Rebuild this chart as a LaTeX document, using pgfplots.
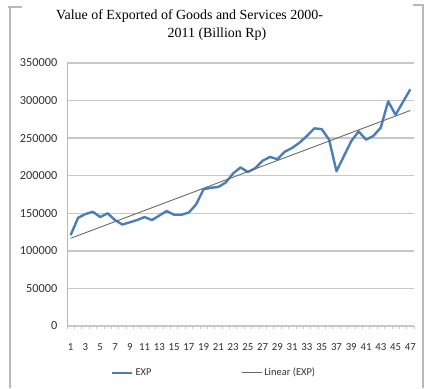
\documentclass[border=0pt]{standalone}
\usepackage{fontspec}
\setmainfont{Liberation Serif}
\newfontfamily\carlito{Carlito}
\usepackage{pgfplots}
\usepackage{pgfplotstable}
\pgfplotsset{compat=1.18}
\definecolor{expblue}{RGB}{74,126,187}
\definecolor{trendgray}{RGB}{105,105,105}
\definecolor{gridgray}{RGB}{200,200,200}
\definecolor{framegray}{RGB}{185,185,185}
\pgfplotstableread{
x y
1 121000
2 144000
3 149000
4 152000
5 145000
6 150000
7 141000
8 135000
9 138000
10 141000
11 145000
12 141000
13 147000
14 153000
15 148000
16 148000
17 151000
18 162000
19 182000
20 184000
21 185000
22 191000
23 203000
24 211000
25 205000
26 210000
27 220000
28 225000
29 222000
30 232000
31 237000
32 244000
33 253000
34 263000
35 262000
36 248000
37 206000
38 226000
39 246000
40 259000
41 248000
42 253000
43 264000
44 299000
45 281000
46 298000
47 315000
}\expdata
\begin{document}
\begin{tikzpicture}
\useasboundingbox (-67bp,-63bp) rectangle (362bp,326bp);
% frame
\draw[framegray,line width=1.2bp] (-59bp,319bp) -- (-57bp,319bp) -- (-57bp,-62bp);
\draw[framegray,line width=1.2bp] (-59bp,319bp) -- (-45bp,319bp);
\draw[framegray,line width=1.2bp] (346bp,321bp) -- (356bp,321bp) -- (356bp,-62bp);
% title
\node[anchor=base,font=\fontsize{14}{16}\selectfont,inner sep=0pt] at (122.5bp,306bp) {Value of Exported of Goods and Services 2000-};
\node[anchor=base,font=\fontsize{14}{16}\selectfont,inner sep=0pt] at (150bp,288bp) {2011 (Billion Rp)};
\begin{axis}[
  at={(0bp,0bp)}, anchor=south west,
  scale only axis,
  width=347bp, height=263bp,
  xmin=0.5, xmax=47.5,
  ymin=0, ymax=350000,
  ytick={0,50000,...,350000},
  xtick={1,3,...,47},
  minor xtick={0.5,1.5,...,47.5},
  scaled y ticks=false,
  /pgf/number format/.cd, fixed, 1000 sep={}, assume math mode=true,
  /pgfplots/.cd,
  axis x line*=bottom,
  axis y line*=left,
  x axis line style={draw=gridgray, line width=1.4bp},
  y axis line style={draw=framegray, line width=0.8bp},
  ymajorgrids,
  major grid style={draw=gridgray, line width=1.5bp},
  major x tick style={draw=none},
  minor x tick style={draw=gridgray, line width=0.7bp},
  major y tick style={draw=none},
  tick align=outside,
  minor tick length=3bp,
  yticklabel style={font=\carlito\fontsize{12.3}{12}\selectfont, color=black!82, xshift=-2bp},
  xticklabel style={font=\carlito\fontsize{10.8}{12}\selectfont, color=black!82, yshift=-10bp},
  legend columns=2,
  legend style={draw=none, fill=none, at={(0.424,-0.178)}, anchor=center,
    font=\carlito\fontsize{10.5}{12}\selectfont, text=black!80,
    /tikz/every even column/.append style={column sep=88bp}},
  legend image code/.code={\draw[#1] (0bp,0bp) -- (20bp,0bp);},
  clip=false,
]
\addplot[expblue, line width=2.4bp, line join=round] table[x=x,y=y] {\expdata};
\addlegendentry{EXP}
\addplot[trendgray, line width=0.9bp] table[x=x,y={create col/linear regression={y=y}}] {\expdata};
\addlegendentry{Linear (EXP)}
\end{axis}
\end{tikzpicture}
\end{document}
